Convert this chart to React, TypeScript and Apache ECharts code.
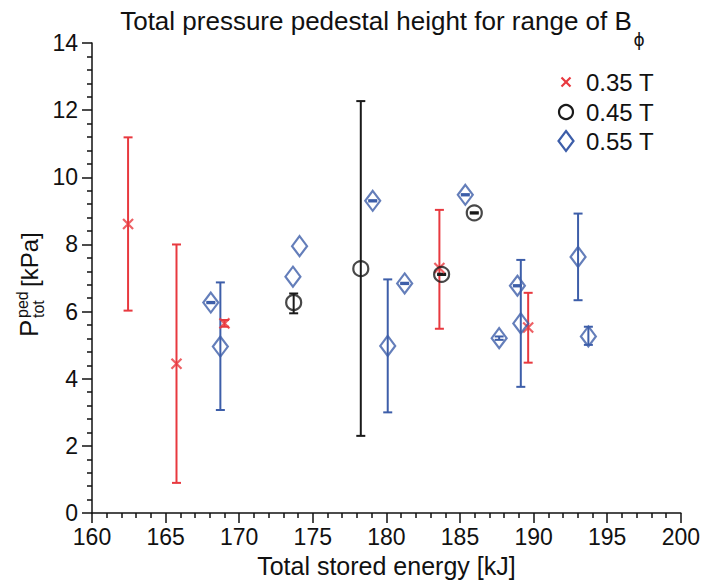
import React, { useEffect, useRef } from "react";
import * as echarts from "echarts";

// 0.35 T
const redX = [162.45, 165.74, 169.0, 183.6, 189.63];
const redY = [8.61, 4.45, 5.65, 7.3, 5.53];
const redLo = [6.03, 0.9, 5.55, 5.49, 4.48];
const redHi = [11.19, 8.0, 5.75, 9.03, 6.56];

// 0.45 T
const blackX = [173.7, 178.26, 183.75, 185.97];
const blackY = [6.27, 7.28, 7.11, 8.94];
const blackLo = [5.95, 2.3, 7.09, 8.92];
const blackHi = [6.54, 12.27, 7.13, 8.96];

// 0.55 T
const blueX = [168.07, 168.72, 173.65, 174.1, 179.07, 180.09, 181.24, 185.36, 187.66, 188.9, 189.13, 193.02, 193.72];
const blueY = [6.27, 4.96, 7.04, 7.95, 9.3, 4.98, 6.84, 9.48, 5.21, 6.77, 5.65, 7.63, 5.26];
const blueLo = [6.25, 3.07, null, null, 9.28, 3.0, 6.82, 9.46, 5.16, 6.75, 3.76, 6.34, 5.01];
const blueHi = [6.29, 6.87, null, null, 9.32, 6.96, 6.86, 9.5, 5.26, 6.79, 7.54, 8.92, 5.55];

const seriesNames = ["0.35 T", "0.45 T", "0.55 T"];
const xTicks = { min: 160, max: 200, interval: 5 };
const yTicks = { min: 0, max: 14, interval: 2 };

const RED = "#e8393f";
const BLACK = "#1a1a1a";
const BLUE = "#3d5ea9";
const FONT = "'Liberation Sans', Arial, Helvetica, sans-serif";

function points(xs: number[], ys: number[]) {
  return xs.map((x, i) => [x, ys[i]]);
}
function bars(xs: number[], lo: (number | null)[], hi: (number | null)[]) {
  const out: number[][] = [];
  xs.forEach((x, i) => {
    if (lo[i] != null && hi[i] != null) out.push([x, lo[i] as number, hi[i] as number]);
  });
  return out;
}

function errSeries(name: string, data: number[][], color: string) {
  return {
    type: "custom",
    name,
    z: 2,
    data,
    encode: { x: 0, y: [1, 2] },
    renderItem: (params: any, api: any) => {
      const x = api.value(0);
      const p1 = api.coord([x, api.value(2)]);
      const p2 = api.coord([x, api.value(1)]);
      const w = 4.5;
      const st = { stroke: color, lineWidth: 2 };
      return {
        type: "group",
        children: [
          { type: "line", shape: { x1: p1[0], y1: p1[1], x2: p2[0], y2: p2[1] }, style: st },
          { type: "line", shape: { x1: p1[0] - w, y1: p1[1], x2: p1[0] + w, y2: p1[1] }, style: st },
          { type: "line", shape: { x1: p2[0] - w, y1: p2[1], x2: p2[0] + w, y2: p2[1] }, style: st },
        ],
      };
    },
  };
}

function legendGraphics() {
  const sx = 566;
  const tx = 586;
  const ys = [82, 112, 141];
  const colors = [RED, BLACK, BLUE];
  const out: any[] = [];
  ys.forEach((y, i) => {
    const st = { stroke: colors[i], lineWidth: 2.2, fill: "none" };
    if (i === 0) {
      out.push({ type: "line", shape: { x1: sx - 4.5, y1: y - 4.5, x2: sx + 4.5, y2: y + 4.5 }, style: st });
      out.push({ type: "line", shape: { x1: sx - 4.5, y1: y + 4.5, x2: sx + 4.5, y2: y - 4.5 }, style: st });
    } else if (i === 1) {
      out.push({ type: "circle", shape: { cx: sx, cy: y, r: 7 }, style: st });
    } else {
      out.push({
        type: "polygon",
        shape: { points: [[sx, y - 10], [sx + 7.5, y], [sx, y + 10], [sx - 7.5, y]] },
        style: st,
      });
    }
    out.push({
      type: "text",
      x: tx,
      y,
      style: { text: seriesNames[i], font: `24px ${FONT}`, fill: "#111", align: "left", verticalAlign: "middle" },
    });
  });
  return out;
}

export default function App() {
  const ref = useRef<HTMLDivElement>(null);
  useEffect(() => {
    if (!ref.current) return;
    const chart = echarts.init(ref.current, null, { renderer: "svg" });
    const axisCommon = {
      axisLine: { show: true, lineStyle: { color: "#111", width: 1.5 } },
      axisTick: { show: true, inside: false, length: 10, lineStyle: { color: "#111", width: 1.5 } },
      minorTick: { show: true, splitNumber: 5, length: 5, lineStyle: { color: "#111", width: 1.5 } },
      splitLine: { show: false },
      minorSplitLine: { show: false },
      axisLabel: { color: "#111", fontSize: 23, fontFamily: FONT },
    };
    chart.setOption({
      animation: false,
      backgroundColor: "#fff",
      grid: { left: 92, right: 21, top: 43, bottom: 66, containLabel: false },
      xAxis: {
        type: "value",
        ...xTicks,
        ...axisCommon,
        axisLabel: { ...axisCommon.axisLabel, margin: 12 },
        name: "Total stored energy [kJ]",
        nameLocation: "middle",
        nameGap: 37,
        nameTextStyle: { color: "#111", fontSize: 25, fontFamily: FONT },
      },
      yAxis: {
        type: "value",
        ...yTicks,
        ...axisCommon,
        axisLabel: { ...axisCommon.axisLabel, margin: 14 },
      },
      graphic: [
        {
          type: "text",
          x: 376,
          y: 21,
          style: {
            text: "Total pressure pedestal height for range of B",
            font: `26px ${FONT}`,
            fill: "#111",
            align: "center",
            verticalAlign: "middle",
          },
        },
        {
          type: "text",
          x: 639,
          y: 40,
          style: { text: "ϕ", font: "17px 'DejaVu Sans', sans-serif", fill: "#111", align: "center", verticalAlign: "middle" },
        },
        {
          type: "group",
          x: 29,
          y: 337,
          rotation: Math.PI / 2,
          children: [
            { type: "text", x: 0, y: 0, style: { text: "P", font: `26px ${FONT}`, fill: "#111", align: "left", verticalAlign: "middle" } },
            { type: "text", x: 19, y: -7, style: { text: "ped", font: `16px ${FONT}`, fill: "#111", align: "left", verticalAlign: "middle" } },
            { type: "text", x: 19, y: 9, style: { text: "tot", font: `16px ${FONT}`, fill: "#111", align: "left", verticalAlign: "middle" } },
            { type: "text", x: 50, y: 0, style: { text: "[kPa]", font: `24px ${FONT}`, fill: "#111", align: "left", verticalAlign: "middle" } },
          ],
        },
        ...legendGraphics(),
      ],
      series: [
        errSeries("err35", bars(redX, redLo, redHi), RED),
        errSeries("err45", bars(blackX, blackLo, blackHi), BLACK),
        errSeries("err55", bars(blueX, blueLo, blueHi), BLUE),
        {
          type: "scatter",
          name: seriesNames[0],
          z: 3,
          symbol: "path://M0,0L10,10M0,10L10,0",
          symbolSize: 10,
          itemStyle: { color: "none", borderColor: RED, borderWidth: 2.2 },
          data: points(redX, redY),
        },
        {
          type: "scatter",
          name: seriesNames[1],
          z: 3,
          symbol: "circle",
          symbolSize: 15,
          itemStyle: { color: "none", borderColor: BLACK, borderWidth: 2.2 },
          data: points(blackX, blackY),
        },
        {
          type: "scatter",
          name: seriesNames[2],
          z: 3,
          symbol: "diamond",
          symbolSize: [15, 20],
          itemStyle: { color: "none", borderColor: BLUE, borderWidth: 2.2 },
          data: points(blueX, blueY),
        },
      ],
    });
    return () => chart.dispose();
  }, []);
  return <div ref={ref} style={{ position: "fixed", left: 0, top: 0, width: 703, height: 583 }} />;
}
